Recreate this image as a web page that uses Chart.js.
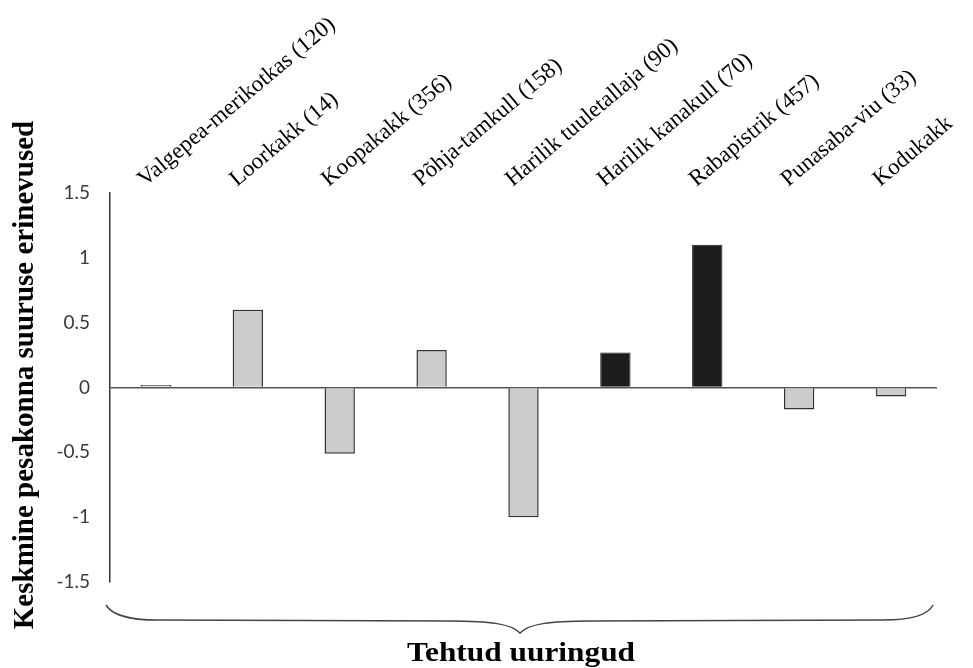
<!DOCTYPE html>
<html>
<head>
<meta charset="utf-8">
<script src="https://cdn.jsdelivr.net/npm/chart.js@4"></script>
<style>
  html, body { margin: 0; padding: 0; background: #ffffff; }
  #wrap { width: 973px; height: 668px; position: relative; }
</style>
</head>
<body>
<div id="wrap"><canvas id="c"></canvas></div>
<script>
// ---- data ----
const categories = [
  "Valgepea-merikotkas (120)",
  "Loorkakk (14)",
  "Koopakakk (356)",
  "Põhja-tamkull (158)",
  "Harilik tuuletallaja (90)",
  "Harilik kanakull (70)",
  "Rabapistrik (457)",
  "Punasaba-viu (33)",
  "Kodukakk"
];
const lightValues = [0.02, 0.60, -0.51, 0.29, -1.00, null, null, -0.17, -0.07];
const darkValues  = [null, null, null, null, null, 0.27, 1.10, null, null];
const yTicks = [-1.5, -1, -0.5, 0, 0.5, 1, 1.5];
const yTitle = "Keskmine pesakonna suuruse erinevused";
const xTitle = "Tehtud uuringud";

const decor = {
  id: 'decor',
  afterDraw(chart) {
    const ctx = chart.ctx;
    const a = chart.chartArea;
    ctx.save();
    // y-axis title
    ctx.translate(26, 375);
    ctx.rotate(-Math.PI / 2);
    ctx.font = 'bold 29px "Liberation Serif", "Times New Roman", serif';
    ctx.fillStyle = '#000';
    ctx.textAlign = 'center';
    ctx.textBaseline = 'middle';
    ctx.fillText(yTitle, 0, 0);
    ctx.restore();

    // brace
    const L = a.left - 4, R = a.right - 4;
    const tip = 520;
    ctx.save();
    ctx.strokeStyle = '#444';
    ctx.lineWidth = 1.5;
    ctx.beginPath();
    ctx.moveTo(L, 605);
    ctx.bezierCurveTo(L + 6, 615, L + 24, 620, L + 51, 620);
    ctx.lineTo(tip - 70, 621);
    ctx.bezierCurveTo(tip - 30, 621, tip - 8, 624, tip, 633);
    ctx.bezierCurveTo(tip + 8, 624, tip + 30, 621, tip + 70, 621);
    ctx.lineTo(R - 50, 620);
    ctx.bezierCurveTo(R - 23, 620, R - 5, 615, R, 605);
    ctx.stroke();
    ctx.restore();

    // bottom title
    ctx.save();
    ctx.translate(tip + 1, 661);
    ctx.scale(1.12, 1);
    ctx.font = 'bold 28px "Liberation Serif", "Times New Roman", serif';
    ctx.fillStyle = '#000';
    ctx.textAlign = 'center';
    ctx.textBaseline = 'alphabetic';
    ctx.fillText(xTitle, 0, 0);
    ctx.restore();
  }
};

new Chart(document.getElementById('c'), {
  type: 'bar',
  data: {
    labels: categories,
    datasets: [
      {
        data: lightValues,
        backgroundColor: '#cccccc',
        borderColor: '#333333',
        borderWidth: 1.5,
        barPercentage: 0.33,
        categoryPercentage: 1.0
      },
      {
        data: darkValues,
        backgroundColor: '#1c1c1c',
        borderColor: '#1c1c1c',
        borderWidth: 1,
        barPercentage: 0.33,
        categoryPercentage: 1.0
      }
    ]
  },
  options: {
    responsive: true,
    maintainAspectRatio: false,
    animation: false,
    layout: { padding: { left: 0, right: 36, top: 0, bottom: 86 } },
    plugins: { legend: { display: false }, tooltip: { enabled: false } },
    scales: {
      x: {
        position: 'top',
        stacked: true,
        grid: { display: false },
        border: { display: false },
        afterFit(s) { s.height = 193; },
        ticks: {
          autoSkip: false,
          minRotation: 40,
          maxRotation: 40,
          labelOffset: 3,
          padding: -8,
          color: '#000',
          font: { family: '"Liberation Serif", "Times New Roman", serif', size: 23 }
        }
      },
      y: {
        stacked: true,
        min: -1.5,
        max: 1.5,
        afterFit(s) { s.width = 110; },
        afterBuildTicks(s) { s.ticks = yTicks.map(v => ({ value: v })); },
        grid: {
          drawTicks: false,
          color: (c) => (c.tick && c.tick.value === 0) ? '#555555' : 'rgba(0,0,0,0)',
          lineWidth: 1.5
        },
        border: { display: true, color: '#333333', width: 1.5 },
        ticks: {
          padding: 20,
          color: '#3a3a3a',
          font: { family: 'Lato, "DejaVu Sans", sans-serif', size: 19 },
          callback: (v) => String(v)
        }
      }
    }
  },
  plugins: [decor]
});
</script>
</body>
</html>
